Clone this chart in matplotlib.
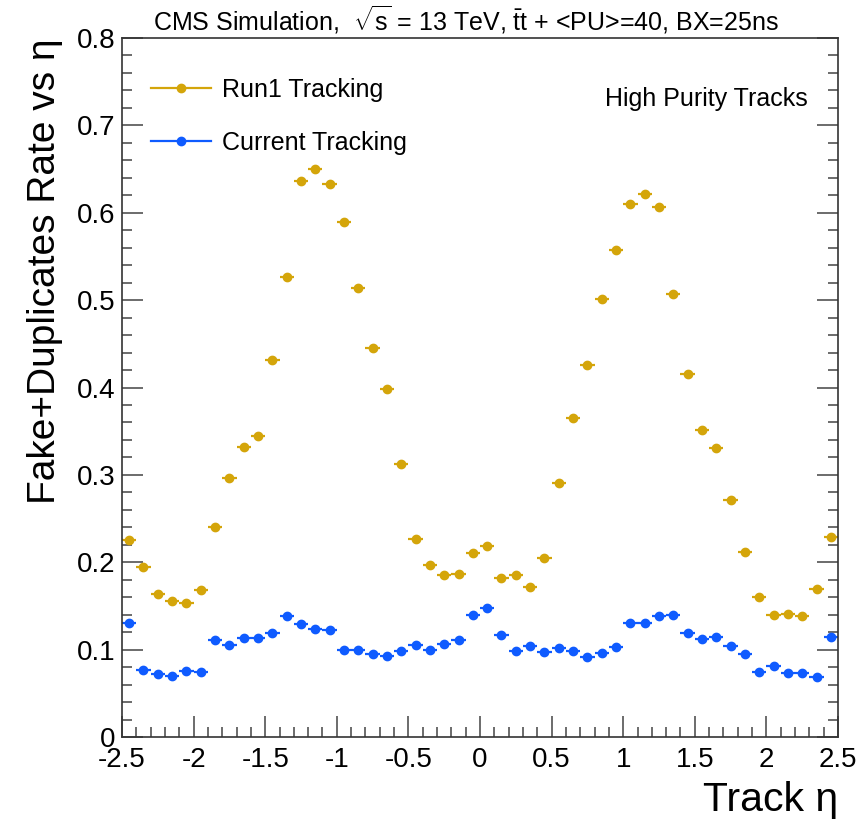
import numpy as np
import matplotlib
matplotlib.use("Agg")
import matplotlib.pyplot as plt
from matplotlib.ticker import MultipleLocator, FuncFormatter
from matplotlib.lines import Line2D

plt.rcParams['font.family'] = ['Liberation Sans', 'DejaVu Sans']
plt.rcParams['mathtext.fontset'] = 'custom'
plt.rcParams['mathtext.rm'] = 'Liberation Sans'
plt.rcParams['mathtext.it'] = 'Liberation Sans'
plt.rcParams['axes.unicode_minus'] = False

# ---- data ----
eta_centers = np.round(np.arange(-2.45, 2.5, 0.1), 2)
bin_half_width = 0.05

run1_rate = [0.226, 0.195, 0.164, 0.156, 0.153, 0.168, 0.240, 0.296, 0.332, 0.345,
             0.431, 0.527, 0.636, 0.650, 0.633, 0.589, 0.514, 0.445, 0.398, 0.312,
             0.227, 0.197, 0.185, 0.187, 0.211, 0.219, 0.182, 0.185, 0.172, 0.205,
             0.291, 0.365, 0.426, 0.501, 0.557, 0.610, 0.622, 0.607, 0.507, 0.416,
             0.351, 0.331, 0.271, 0.212, 0.160, 0.140, 0.141, 0.139, 0.169, 0.229]

current_rate = [0.131, 0.077, 0.072, 0.070, 0.076, 0.074, 0.111, 0.105, 0.113, 0.113,
                0.119, 0.139, 0.129, 0.124, 0.122, 0.100, 0.099, 0.095, 0.093, 0.098,
                0.105, 0.100, 0.107, 0.111, 0.140, 0.148, 0.117, 0.098, 0.104, 0.097,
                0.102, 0.098, 0.092, 0.096, 0.103, 0.131, 0.131, 0.139, 0.140, 0.119,
                0.112, 0.114, 0.104, 0.095, 0.074, 0.081, 0.073, 0.073, 0.069, 0.114]

series_labels = ["Run1 Tracking", "Current Tracking"]
series_colors = ["#D4A50A", "#0F5BFF"]

# ---- figure ----
W, H = 863, 824
fig = plt.figure(figsize=(W / 100, H / 100), dpi=100)
ax = fig.add_axes([122 / W, 1 - 737 / H, (838 - 122) / W, (737 - 38) / H])

handles = []
for vals, lab, col in zip([run1_rate, current_rate], series_labels, series_colors):
    ax.errorbar(eta_centers, vals, xerr=bin_half_width, fmt='o', color=col,
                markersize=6, elinewidth=1.6, capsize=0)
    handles.append(Line2D([], [], color=col, marker='o', markersize=6, linewidth=1.6))

ax.set_xlim(-2.5, 2.5)
ax.set_ylim(0, 0.8)

ax.xaxis.set_major_locator(MultipleLocator(0.5))
ax.xaxis.set_minor_locator(MultipleLocator(0.1))
ax.yaxis.set_major_locator(MultipleLocator(0.1))
ax.yaxis.set_minor_locator(MultipleLocator(0.02))

def fmt(v, pos):
    s = ('%.1f' % v)
    if s.endswith('.0'):
        s = s[:-2]
    if s == '-0':
        s = '0'
    return s

ax.xaxis.set_major_formatter(FuncFormatter(fmt))
ax.yaxis.set_major_formatter(FuncFormatter(fmt))

ax.tick_params(axis='both', which='both', direction='in', color='#444444')
ax.tick_params(axis='x', which='major', length=15, width=1.1, labelsize=20, pad=7, top=False)
ax.tick_params(axis='x', which='minor', length=7.5, width=1.1, top=False)
ax.tick_params(axis='y', which='major', length=15, width=1.1, labelsize=20, pad=5, right=True)
ax.tick_params(axis='y', which='minor', length=7.5, width=1.1, right=True)

for sp in ax.spines.values():
    sp.set_color('#333333')
    sp.set_linewidth(1.2)

ax.set_xlabel("Track η", fontsize=29.5, loc='right', labelpad=6)
ax.set_ylabel("Fake+Duplicates Rate vs η", fontsize=28, loc='top', labelpad=10)

fig.text(466 / W, 1 - 20 / H,
         r"CMS Simulation,  $\sqrt{\mathrm{s}}$ = 13 TeV, $\bar{\mathrm{t}}$t + <PU>=40, BX=25ns",
         ha='center', va='center', fontsize=18)

fig.text(808 / W, 1 - 99 / H, "High Purity Tracks", ha='right', va='center', fontsize=18)

leg = ax.legend(handles=handles, labels=series_labels, loc='upper left',
                bbox_to_anchor=(151 / W, 1 - 78 / H), bbox_transform=fig.transFigure,
                frameon=False, fontsize=18, handlelength=2.4, handletextpad=0.45,
                labelspacing=1.15, borderpad=0, borderaxespad=0)

fig.savefig("out.png", dpi=100)
